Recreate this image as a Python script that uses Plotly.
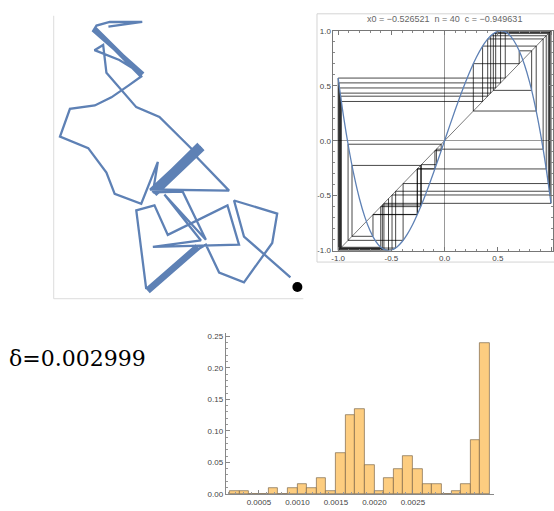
import plotly.graph_objects as go

W, H = 554, 511

# ---- random walk (walk units); None splits the polyline into pieces ----
walk_x = [5.5, 8.9, 5.63, 4.3,
          3.96, 8.93, 4.17, 8.73, 4.1, 9.04, 4.03, 8.83, 4.24, 8.93,
          6.6, 4.1, 4.97, 5.3, 8.3, 10.63, 13.3, 13.8, 14.47, 17.63,
          9.69, 14.59, 9.83, 14.73, 9.97, 14.87, 10.11, 15.01, 10.25, 15.08,
          10.18, 14.94, 10.04, 14.8, 9.9, 14.66, 9.76, 14.52, 9.97,
          10.47, 8.8, 6.13, 5.3, 3.47, 0.63, 1.63, 4.13, 5.8, 7.47, 8.9,
          None,
          9.97, 12.97, 15.3, 11.13, 14.8, 9.97, 18.63, 17.47, 11.47, 10.13, 8.3, 9.3,
          14.34, 9.38, 14.44, 9.48, 14.54, 9.58, 14.64,
          15.3, 16.63, 19.13, 21.97, 22.47, 18.13, 19.13, 23.8]
walk_y = [27.7, 28.17, 28.17, 27.8,
          27.26, 22.84, 27.47, 22.62, 27.4, 22.94, 27.33, 22.73, 27.54, 22.84,
          24.3, 25.3, 25.83, 23.0, 19.5, 18.5, 15.83, 15.33, 14.33, 11.0,
          11.12, 15.72, 10.97, 15.57, 10.83, 15.43, 10.69, 15.28, 10.54, 15.21,
          10.61, 15.36, 10.76, 15.5, 10.9, 15.64, 11.05, 15.79, 10.83,
          13.93, 9.67, 10.67, 12.83, 15.33, 16.5, 19.33, 19.67, 20.5, 21.67, 22.7,
          None,
          10.83, 10.9, 6.0, 10.6, 5.93, 5.27, 5.5, 9.5, 6.5, 9.5, 9.0, 1.0,
          5.45, 0.88, 5.34, 0.76, 5.23, 0.65, 5.11,
          5.5, 2.67, 1.67, 5.67, 8.67, 10.0, 6.33, 2.17]
walk_marker = [24.5, 1.2]

# ---- cubic map samples and orbit ----
map_x = [-1.0, -0.95, -0.9, -0.85, -0.8, -0.75, -0.7, -0.65, -0.6, -0.55, -0.5,
         -0.45, -0.4, -0.35, -0.3, -0.25, -0.2, -0.15, -0.1, -0.05, 0.0,
         0.05, 0.1, 0.15, 0.2, 0.25, 0.3, 0.35, 0.4, 0.45, 0.5,
         0.55, 0.6, 0.65, 0.7, 0.75, 0.8, 0.85, 0.9, 0.95, 1.0]
map_y = [0.570, 0.224, -0.071, -0.321, -0.528, -0.693, -0.820, -0.912, -0.970, -0.997, -0.996,
         -0.969, -0.920, -0.850, -0.762, -0.658, -0.542, -0.415, -0.281, -0.142, 0.0,
         0.142, 0.281, 0.415, 0.542, 0.658, 0.762, 0.850, 0.920, 0.969, 0.996,
         0.997, 0.970, 0.912, 0.820, 0.693, 0.528, 0.321, 0.071, -0.224, -0.570]
diag = [-1.0, 1.0]
orbit = [-0.527, -1.000, 0.570, 0.990, -0.494, -0.994, 0.526, 1.000, -0.570, -0.988,
         0.480, 0.985, -0.460, -0.977, 0.405, 0.926, -0.077, -0.218, -0.585, -0.981,
         0.433, 0.955, -0.257, -0.673, -0.870, -0.225, -0.600, -0.970, 0.357, 0.861,
         0.270, 0.701, 0.818, 0.458, 0.975, -0.390, -0.907, -0.032, -0.091, -0.256, -0.671]
cobweb_title = "x0 = \u22120.526521 \u00a0n = 40 \u00a0c = \u22120.949631"
frame_ticks = [-1.0, -0.5, 0.0, 0.5, 1.0]
frame_labels = ["-1.0", "-0.5", "0.0", "0.5", "1.0"]

# ---- histogram of step sizes ----
bin_start = 0.000125
bin_width = 0.000125
bin_prob = [0.005, 0.005, 0.0, 0.0, 0.01, 0.0, 0.01, 0.015, 0.01, 0.025,
            0.005, 0.065, 0.125, 0.135, 0.045, 0.005, 0.025, 0.04, 0.06, 0.04,
            0.015, 0.015, 0.0, 0.005, 0.015, 0.085, 0.24]
hist_xticks = [0.0005, 0.0010, 0.0015, 0.0020, 0.0025]
hist_xlabels = ["0.0005", "0.0010", "0.0015", "0.0020", "0.0025"]
hist_yticks = [0.0, 0.05, 0.10, 0.15, 0.20, 0.25]
hist_ylabels = ["0.00", "0.05", "0.10", "0.15", "0.20", "0.25"]
delta_label = "\u03b4=0.002999"


def px(x):
    return x / W


def py(y):
    return 1 - y / H


# cobweb polyline from the orbit
cob_x, cob_y = [orbit[0]], [orbit[0]]
for a, b in zip(orbit[:-1], orbit[1:]):
    cob_x += [a, b]
    cob_y += [b, b]

bin_centers = [bin_start + bin_width * (i + 0.5) for i in range(len(bin_prob))]

fig = go.Figure()

fig.add_trace(go.Scatter(x=walk_x, y=walk_y, mode="lines", connectgaps=False,
                         line=dict(color="#5E81B5", width=2.3),
                         xaxis="x", yaxis="y", hoverinfo="skip"))
fig.add_trace(go.Scatter(x=[walk_marker[0]], y=[walk_marker[1]], mode="markers",
                         marker=dict(color="black", size=10),
                         xaxis="x", yaxis="y", hoverinfo="skip"))

fig.add_trace(go.Scatter(x=diag, y=diag, mode="lines",
                         line=dict(color="rgba(0,0,0,0.75)", width=0.7),
                         xaxis="x2", yaxis="y2", hoverinfo="skip"))
fig.add_trace(go.Scatter(x=cob_x, y=cob_y, mode="lines",
                         line=dict(color="rgba(0,0,0,0.8)", width=0.9),
                         xaxis="x2", yaxis="y2", hoverinfo="skip"))
fig.add_trace(go.Scatter(x=map_x, y=map_y, mode="lines",
                         line=dict(color="#5E81B5", width=1.3, shape="spline", smoothing=1),
                         xaxis="x2", yaxis="y2", hoverinfo="skip"))

fig.add_trace(go.Bar(x=bin_centers, y=bin_prob, width=bin_width,
                     marker=dict(color="rgb(253,205,128)",
                                 line=dict(color="rgba(120,100,70,0.85)", width=0.8)),
                     xaxis="x3", yaxis="y3", hoverinfo="skip"))

tick_font = dict(family="Liberation Sans, Arial, sans-serif", size=8, color="#444")

fig.update_layout(
    width=W, height=H,
    margin=dict(l=0, r=0, t=0, b=0),
    paper_bgcolor="white", plot_bgcolor="rgba(0,0,0,0)",
    showlegend=False, bargap=0,
    xaxis=dict(domain=[px(52), px(303)], range=[0, 25.1], visible=False),
    yaxis=dict(domain=[py(300), py(12)], range=[0, 28.8], visible=False),
    xaxis2=dict(domain=[px(333.3), 1.0], range=[-1.044, 1.0187], anchor="y2",
                showgrid=False, zeroline=True, zerolinecolor="#999", zerolinewidth=1,
                showline=True, linecolor="#777", linewidth=1, mirror="allticks",
                ticks="inside", ticklen=4, tickcolor="#777",
                tickmode="array", tickvals=frame_ticks, ticktext=frame_labels,
                minor=dict(tickmode="linear", tick0=0, dtick=0.1, ticks="inside",
                           ticklen=2, tickcolor="#888"),
                tickfont=tick_font),
    yaxis2=dict(domain=[py(251), py(27.3)], range=[-1, 1], anchor="x2",
                showgrid=False, zeroline=True, zerolinecolor="#999", zerolinewidth=1,
                showline=True, linecolor="#777", linewidth=1, mirror="allticks",
                ticks="inside", ticklen=4, tickcolor="#777",
                tickmode="array", tickvals=frame_ticks, ticktext=frame_labels,
                minor=dict(tickmode="linear", tick0=0, dtick=0.1, ticks="inside",
                           ticklen=2, tickcolor="#888"),
                tickfont=tick_font),
    xaxis3=dict(domain=[px(225), px(495)], range=[0.00007, 0.003558], anchor="y3",
                showgrid=False, zeroline=False,
                showline=True, linecolor="#888", linewidth=1,
                ticks="inside", ticklen=4, tickcolor="#888",
                tickmode="array", tickvals=hist_xticks, ticktext=hist_xlabels,
                minor=dict(tickmode="linear", tick0=0, dtick=0.0001, ticks="inside",
                           ticklen=2, tickcolor="#999"),
                tickfont=tick_font),
    yaxis3=dict(domain=[py(498.7), py(335)], range=[0, 0.2551], anchor="x3",
                showgrid=False, zeroline=False,
                showline=True, linecolor="#888", linewidth=1,
                ticks="inside", ticklen=4, tickcolor="#888",
                tickmode="array", tickvals=hist_yticks, ticktext=hist_ylabels,
                minor=dict(tickmode="linear", tick0=0, dtick=0.01, ticks="inside",
                           ticklen=2, tickcolor="#999"),
                tickfont=tick_font),
    shapes=[
        dict(type="line", xref="paper", yref="paper", x0=px(52), x1=px(52),
             y0=py(12), y1=py(300), line=dict(color="#dcdcdc", width=1)),
        dict(type="line", xref="paper", yref="paper", x0=px(52), x1=px(303),
             y0=py(300), y1=py(300), line=dict(color="#dcdcdc", width=1)),
        dict(type="rect", xref="paper", yref="paper", x0=px(316.7), x1=1.05,
             y0=py(262.7), y1=py(10), line=dict(color="#d4d4d4", width=1)),
    ],
    annotations=[
        dict(text=cobweb_title, xref="paper", yref="paper", x=px(445), y=py(15),
             xanchor="center", yanchor="middle", showarrow=False,
             font=dict(family="Liberation Sans, Arial, sans-serif", size=9, color="#666")),
        dict(text=delta_label, xref="paper", yref="paper", x=px(5), y=py(361),
             xanchor="left", yanchor="middle", showarrow=False,
             font=dict(family="DejaVu Serif, serif", size=22, color="black")),
    ],
)

fig.write_html("out.html")
